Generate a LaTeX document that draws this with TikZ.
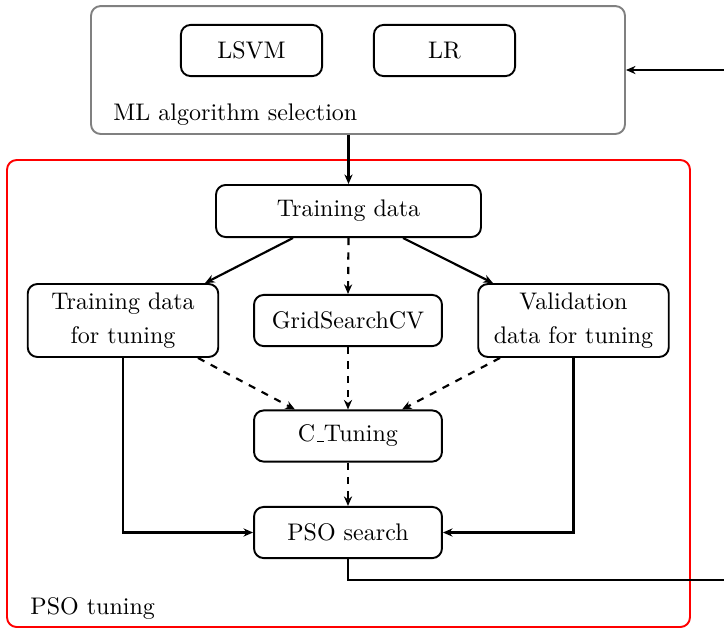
\documentclass[tikz,border=0pt]{standalone}
\usetikzlibrary{arrows.meta}
\begin{document}
\begin{tikzpicture}[x=0.4167pt, y=-0.4167pt,
  box/.style={draw, thick, rounded corners=4pt, inner sep=0pt, align=center},
  smallbox/.style={box, minimum width=78.3pt, minimum height=21.3pt},
  algobox/.style={box, minimum width=58.8pt, minimum height=21.3pt},
  tallbox/.style={box, minimum width=79.4pt, minimum height=30.4pt},
  arr/.style={line width=0.9pt, -{Stealth[length=4pt, width=3.4pt, inset=1.3pt]}},
  darr/.style={arr, dashed},
  caption/.style={anchor=base west, inner sep=0pt}]
  \clip (0,0) rectangle (724,629);
  \useasboundingbox (0,0) rectangle (724,629);

  % algorithm selection group
  \node[draw=gray, thick, rounded corners=4pt, inner sep=0pt,
        minimum width=222.5pt, minimum height=53.3pt] (mlsel) at (358,70) {};
  \node[algobox] (lsvm) at (251.5,50.5) {LSVM};
  \node[algobox] (lr) at (444.5,50.5) {LR};
  \node[caption] (mllabel) at (113,120) {ML algorithm selection};

  % PSO tuning group
  \node[draw=red, thick, rounded corners=4pt, inner sep=0pt,
        minimum width=284.6pt, minimum height=194.6pt] (psogroup) at (348.5,393.5) {};
  \node[caption] (psolabel) at (30,614) {PSO tuning};

  \node[box, minimum width=110.4pt, minimum height=21.7pt] (train) at (348.5,211) {Training data};
  \node[tallbox] (tdft) at (123,320.5) {Training data\\[2pt] for tuning};
  \node[smallbox] (grid) at (348,320.5) {GridSearchCV};
  \node[tallbox] (valid) at (573.5,320.5) {Validation\\[2pt] data for tuning};
  \node[smallbox] (ctune) at (348,436) {C\kern.06em\vbox{\hrule width.3em}Tuning};
  \node[smallbox] (pso) at (348,532.5) {PSO search};

  \coordinate (turn) at (760,580);

  % connectors
  \draw[arr] (mlsel.south -| train.north) -- (train.north);
  \draw[arr] (train.south -| 293,0) -- (tdft.north -| 205,0);
  \draw[arr] (train.south -| 403,0) -- (valid.north -| 493,0);
  \draw[darr] (train.south) -- (grid.north);
  \draw[darr] (tdft.south -| 198,0) -- (ctune.north -| 295,0);
  \draw[darr] (grid.south) -- (ctune.north);
  \draw[darr] (valid.south -| 500,0) -- (ctune.north -| 402,0);
  \draw[darr] (ctune.south) -- (pso.north);
  \draw[arr] (tdft.south) |- (pso.west);
  \draw[arr] (valid.south) |- (pso.east);
  \draw[arr] (pso.south) |- (turn) |- (mlsel.east);
\end{tikzpicture}
\end{document}
